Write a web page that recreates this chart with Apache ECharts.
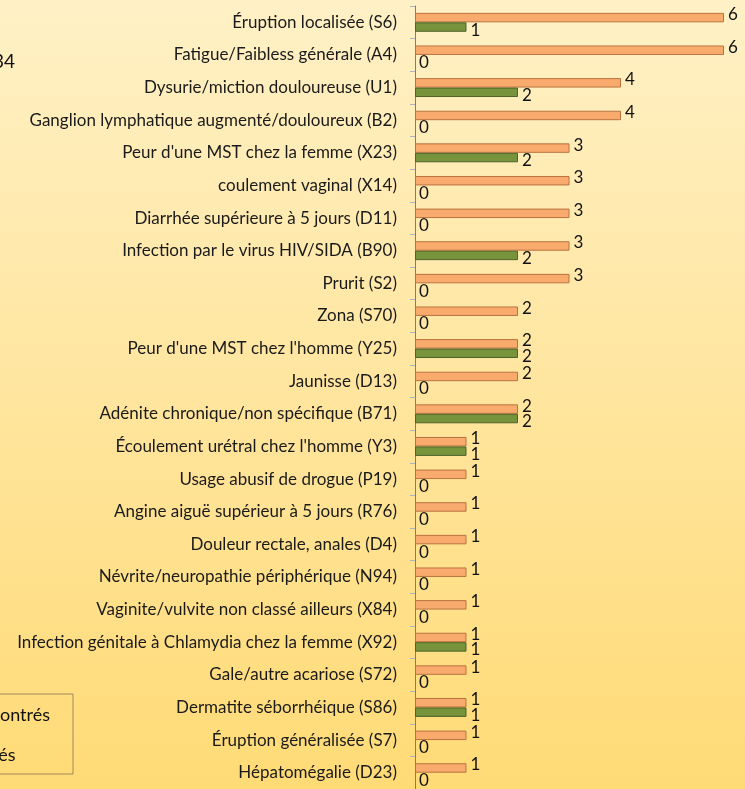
<!DOCTYPE html>
<html><head><meta charset="utf-8">
<script src="https://cdn.jsdelivr.net/npm/echarts@6/dist/echarts.min.js"></script>
<style>html,body{margin:0;padding:0;}#c{width:745px;height:789px;}</style>
</head><body><div id="c"></div>
<script>
const categories = [
"Éruption localisée (S6)",
"Fatigue/Faibless générale (A4)",
"Dysurie/miction douloureuse (U1)",
"Ganglion lymphatique augmenté/douloureux (B2)",
"Peur d'une MST chez la femme (X23)",
"coulement vaginal (X14)",
"Diarrhée supérieure à 5 jours (D11)",
"Infection par le virus HIV/SIDA (B90)",
"Prurit (S2)",
"Zona (S70)",
"Peur d'une MST chez l'homme (Y25)",
"Jaunisse (D13)",
"Adénite chronique/non spécifique (B71)",
"Écoulement urétral chez l'homme (Y3)",
"Usage abusif de drogue (P19)",
"Angine aiguë supérieur à 5 jours (R76)",
"Douleur rectale, anales (D4)",
"Névrite/neuropathie périphérique (N94)",
"Vaginite/vulvite non classé ailleurs (X84)",
"Infection génitale à Chlamydia chez la femme (X92)",
"Gale/autre acariose (S72)",
"Dermatite séborrhéique (S86)",
"Éruption généralisée (S7)",
"Hépatomégalie (D23)"
];
const rencontres = [6,6,4,4,3,3,3,3,3,2,2,2,2,1,1,1,1,1,1,1,1,1,1,1];
const traites    = [1,0,2,0,2,0,0,2,0,0,2,0,2,1,0,0,0,0,0,1,0,1,0,0];
const seriesNames = ["Problèmes rencontrés", "Problèmes traités"];
const titleText = "Nombre total de consultations : 34";

const chart = echarts.init(document.getElementById('c'));
const FONT = 'Lato';
const noBorderZero = v => (v === 0 ? {value: 0, itemStyle: {borderWidth: 0}} : v);
chart.setOption({
  animation: false,
  backgroundColor: new echarts.graphic.LinearGradient(0,0,0,1,[
    {offset:0,color:'#FFF1C6'},{offset:0.5,color:'#FFE59E'},{offset:1,color:'#FFDB76'}]),
  graphic: [{type:'text', right: 730, top: 52,
    style:{text: titleText, font: '19px ' + FONT, fill:'#111'}}],
  legend: {
    data: seriesNames, orient: 'vertical', right: 672, top: 694,
    padding: [12, 23, 10, 10], itemGap: 22, itemWidth: 10, itemHeight: 10,
    borderColor: '#A08A5A', borderWidth: 1,
    textStyle: {fontFamily: FONT, fontSize: 18, color:'#111'}
  },
  grid: {left: 415, right: 21, top: 6, height: 790, containLabel: false},
  xAxis: {type:'value', min:0, max:6, show:false},
  yAxis: {type:'category', data: categories, inverse: true,
    axisLine:{show:true, lineStyle:{color:'#5B82B5', width:1}},
    axisTick:{show:true, length:5, lineStyle:{color:'#A8B4C4'}},
    axisLabel:{fontFamily: FONT, fontSize: 17, color:'#1a1a1a', margin: 18}
  },
  series: [
    {name: seriesNames[0], type:'bar', data: rencontres.map(noBorderZero), barGap: '0%', barCategoryGap: '42%',
     itemStyle:{color:'#F9AB6E', borderColor:'#B9733F', borderWidth:1},
     label:{show:true, position:'right', distance:4, fontFamily: FONT, fontSize:17, color:'#111', offset:[0,-3]}},
    {name: seriesNames[1], type:'bar', data: traites.map(noBorderZero),
     itemStyle:{color:'#77933C', borderColor:'#4F6228', borderWidth:1},
     label:{show:true, position:'right', distance:4, fontFamily: FONT, fontSize:17, color:'#111', offset:[0,3]}}
  ]
});
</script></body></html>
